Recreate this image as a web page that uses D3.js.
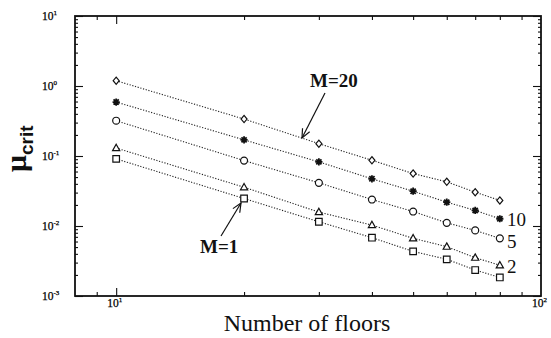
<!DOCTYPE html>
<html>
<head>
<meta charset="utf-8">
<script src="https://cdn.jsdelivr.net/npm/d3@7"></script>
<style>
  html, body { margin: 0; padding: 0; background: #fff; }
  svg { display: block; }
</style>
</head>
<body>
<svg id="chart" width="551" height="338"></svg>
<script>
// Number of floors (x) and critical μ for each value of M
const floors = [10, 20, 30, 40, 50, 60, 70, 80];
const muM20 = [1.19, 0.337, 0.150, 0.0869, 0.0561, 0.0428, 0.0304, 0.0232];
const muM10 = [0.590, 0.170, 0.0824, 0.0472, 0.0314, 0.0219, 0.0167, 0.0127];
const muM5  = [0.319, 0.0860, 0.0414, 0.0239, 0.0161, 0.0111, 0.00865, 0.00666];
const muM2  = [0.130, 0.0358, 0.0158, 0.0103, 0.00666, 0.00507, 0.00353, 0.00275];
const muM1  = [0.0910, 0.0247, 0.0115, 0.00681, 0.00434, 0.00334, 0.00235, 0.00184];
const seriesM = [20, 10, 5, 2, 1];
const seriesMarkers = ["diamond", "star", "circle", "triangle", "square"];
const endLabels = ["10", "5", "2"];
const xTickExponents = [1, 2];
const yTickExponents = [1, 0, -1, -2, -3];

const series = [muM20, muM10, muM5, muM2, muM1].map((vals, i) => ({
  m: seriesM[i],
  marker: seriesMarkers[i],
  points: floors.map((f, j) => ({ x: f, y: vals[j] }))
}));

const svg = d3.select("#chart");
const plot = { left: 75, right: 541, top: 16, bottom: 296 };

const x = d3.scaleLog().domain([8, 100]).range([plot.left, plot.right]);
const y = d3.scaleLog().domain([1e-3, 10]).range([plot.bottom, plot.top]);

const serif = "'Liberation Serif', 'Times New Roman', serif";

// minor and major tick positions
const xMajor = xTickExponents.map(e => Math.pow(10, e));
const xMinor = [9, 20, 30, 40, 50, 60, 70, 80, 90];
const yMajor = yTickExponents.map(e => Math.pow(10, e));
const yMinor = [];
for (let e = -3; e < 1; e++) for (let k = 2; k <= 9; k++) yMinor.push(k * Math.pow(10, e));

function tickAxis(gen, scale, vals, size, transform) {
  const g = svg.append("g").attr("transform", transform)
    .call(gen(scale).tickValues(vals).tickSize(size).tickFormat(""));
  g.select(".domain").remove();
  g.selectAll(".tick line").attr("stroke", "#111").attr("stroke-width", 1.1);
  return g;
}

// inward ticks on all four sides
tickAxis(d3.axisBottom, x, xMajor.filter(v => v < 100), -8, `translate(0,${plot.bottom})`);
tickAxis(d3.axisBottom, x, xMinor, -4, `translate(0,${plot.bottom})`);
tickAxis(d3.axisTop, x, xMajor.filter(v => v < 100), -8, `translate(0,${plot.top})`);
tickAxis(d3.axisTop, x, xMinor, -4, `translate(0,${plot.top})`);
tickAxis(d3.axisLeft, y, yMajor, -8, `translate(${plot.left},0)`);
tickAxis(d3.axisLeft, y, yMinor, -3, `translate(${plot.left},0)`);
tickAxis(d3.axisRight, y, yMajor, -8, `translate(${plot.right},0)`);
tickAxis(d3.axisRight, y, yMinor, -3, `translate(${plot.right},0)`);

// frame
svg.append("rect")
  .attr("x", plot.left).attr("y", plot.top)
  .attr("width", plot.right - plot.left).attr("height", plot.bottom - plot.top)
  .attr("fill", "none").attr("stroke", "#111").attr("stroke-width", 1.8);

// tick labels with superscript exponents
function powerLabel(g, exp) {
  g.append("tspan").text("10");
  g.append("tspan").attr("font-size", 7).attr("dy", -5).text(exp);
}
yTickExponents.forEach(e => {
  const t = svg.append("text")
    .attr("x", 42).attr("y", y(Math.pow(10, e)) + 4)
    .attr("font-family", serif).attr("font-size", 11.5).attr("fill", "#000")
    .attr("stroke", "#000").attr("stroke-width", 0.25);
  powerLabel(t, e);
});
xTickExponents.forEach(e => {
  const t = svg.append("text")
    .attr("x", x(Math.pow(10, e)) - 9).attr("y", 307)
    .attr("font-family", serif).attr("font-size", 11.5).attr("fill", "#000")
    .attr("stroke", "#000").attr("stroke-width", 0.25);
  powerLabel(t, e);
});

// dotted lines
const line = d3.line().x(d => x(d.x)).y(d => y(d.y));
svg.append("g").selectAll("path").data(series).join("path")
  .attr("d", d => line(d.points))
  .attr("fill", "none").attr("stroke", "#222").attr("stroke-width", 1.1)
  .attr("stroke-dasharray", "1.2,1.6");

// markers
const markerPath = {
  diamond: "M0,-3.6L3,0L0,3.6L-3,0Z",
  circle: d3.symbol(d3.symbolCircle, 38)(),
  triangle: "M0,-3.8L3.6,2.6L-3.6,2.6Z",
  square: "M-3.3,-3.3H3.3V3.3H-3.3Z"
};
series.forEach(s => {
  const g = svg.append("g");
  s.points.forEach(p => {
    const px = x(p.x), py = y(p.y);
    if (s.marker === "star") {
      const sg = g.append("g").attr("transform", `translate(${px},${py})`);
      sg.append("path").attr("d", "M-3.6,0H3.6M0,-3.6V3.6M-2.6,-2.6L2.6,2.6M-2.6,2.6L2.6,-2.6")
        .attr("stroke", "#111").attr("stroke-width", 1.8).attr("fill", "none");
      sg.append("rect").attr("x", -1.8).attr("y", -1.8).attr("width", 3.6).attr("height", 3.6).attr("fill", "#111");
    } else {
      g.append("path").attr("d", markerPath[s.marker])
        .attr("transform", `translate(${px},${py})`)
        .attr("fill", "#fff").attr("stroke", "#111").attr("stroke-width", 1.2);
    }
  });
});

// series labels at the right end of the M=10, 5 and 2 lines
const endSeries = [muM10, muM5, muM2];
const endOffsets = [7, 10, 8];
endSeries.forEach((vals, i) => {
  svg.append("text")
    .attr("x", 507).attr("y", y(vals[vals.length - 1]) + endOffsets[i])
    .attr("font-family", serif).attr("font-size", 19).attr("fill", "#111")
    .text(endLabels[i]);
});

// arrow annotations
svg.append("defs").append("marker")
  .attr("id", "arrowhead").attr("viewBox", "-10 -5 12 10")
  .attr("markerWidth", 12).attr("markerHeight", 10)
  .attr("refX", 0).attr("refY", 0).attr("orient", "auto")
  .attr("markerUnits", "userSpaceOnUse")
  .append("path").attr("d", "M-9,-4L0,0L-9,4")
  .attr("fill", "none").attr("stroke", "#111").attr("stroke-width", 1.2);

function annotate(label, tx, ty, x1, y1, x2, y2) {
  svg.append("line").attr("x1", x1).attr("y1", y1).attr("x2", x2).attr("y2", y2)
    .attr("stroke", "#111").attr("stroke-width", 1.2).attr("marker-end", "url(#arrowhead)");
  svg.append("text").attr("x", tx).attr("y", ty)
    .attr("font-family", serif).attr("font-size", 19).attr("font-weight", "bold")
    .attr("fill", "#111").text(label);
}
annotate("M=20", 310, 87, 325, 93, 302, 138);
annotate("M=1", 200, 253, 221, 236, 241, 203);

// axis titles
svg.append("text")
  .attr("x", 307).attr("y", 331).attr("text-anchor", "middle")
  .attr("font-family", serif).attr("font-size", 24).attr("fill", "#111")
  .text("Number of floors");

const yl = svg.append("text")
  .attr("transform", "translate(26,172) rotate(-90)")
  .attr("font-family", serif).attr("font-weight", "bold").attr("fill", "#111");
yl.append("tspan").attr("font-size", 30).text("μ");
yl.append("tspan").attr("font-size", 19).attr("dy", 7)
  .attr("font-family", "'Liberation Sans', Arial, sans-serif").text("crit");
</script>
</body>
</html>
